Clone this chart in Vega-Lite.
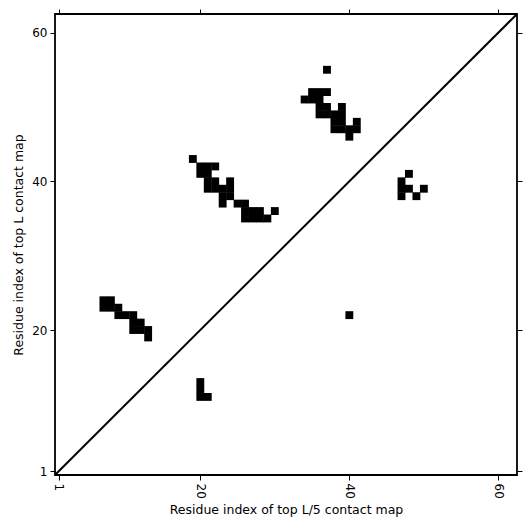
{
  "$schema": "https://vega.github.io/schema/vega-lite/v6.json",
  "autosize": "none",
  "width": 462,
  "height": 461,
  "padding": {"left": 55, "top": 14, "right": 14, "bottom": 56},
  "background": "white",
  "config": {
    "font": "DejaVu Sans",
    "view": {"stroke": "black", "strokeWidth": 1.8},
    "axis": {
      "domain": false,
      "grid": false,
      "tickColor": "black",
      "tickSize": 5,
      "tickWidth": 1,
      "labelColor": "black",
      "labelFontSize": 12,
      "titleColor": "black",
      "titleFontSize": 12.5,
      "titleFontWeight": "normal",
      "labelFont": "DejaVu Sans",
      "titleFont": "DejaVu Sans"
    }
  },
  "datasets": {
    "contacts": [
      {"i": 7, "j": 24}, {"i": 8, "j": 24},
      {"i": 7, "j": 23}, {"i": 8, "j": 23}, {"i": 9, "j": 23},
      {"i": 9, "j": 22}, {"i": 10, "j": 22}, {"i": 11, "j": 22},
      {"i": 11, "j": 21}, {"i": 12, "j": 21},
      {"i": 11, "j": 20}, {"i": 12, "j": 20}, {"i": 13, "j": 20},
      {"i": 13, "j": 19},
      {"i": 19, "j": 43},
      {"i": 20, "j": 42}, {"i": 21, "j": 42}, {"i": 22, "j": 42},
      {"i": 20, "j": 41}, {"i": 21, "j": 41},
      {"i": 21, "j": 40}, {"i": 22, "j": 40}, {"i": 24, "j": 40},
      {"i": 21, "j": 39}, {"i": 22, "j": 39}, {"i": 23, "j": 39}, {"i": 24, "j": 39},
      {"i": 23, "j": 38}, {"i": 24, "j": 38},
      {"i": 23, "j": 37}, {"i": 25, "j": 37}, {"i": 26, "j": 37},
      {"i": 26, "j": 36}, {"i": 27, "j": 36}, {"i": 28, "j": 36}, {"i": 30, "j": 36},
      {"i": 26, "j": 35}, {"i": 27, "j": 35}, {"i": 28, "j": 35}, {"i": 29, "j": 35},
      {"i": 37, "j": 55},
      {"i": 35, "j": 52}, {"i": 36, "j": 52}, {"i": 37, "j": 52},
      {"i": 34, "j": 51}, {"i": 35, "j": 51}, {"i": 36, "j": 51},
      {"i": 36, "j": 50}, {"i": 37, "j": 50}, {"i": 39, "j": 50},
      {"i": 36, "j": 49}, {"i": 37, "j": 49}, {"i": 38, "j": 49}, {"i": 39, "j": 49},
      {"i": 38, "j": 48}, {"i": 39, "j": 48}, {"i": 41, "j": 48},
      {"i": 38, "j": 47}, {"i": 39, "j": 47}, {"i": 40, "j": 47}, {"i": 41, "j": 47},
      {"i": 40, "j": 46},
      {"i": 48, "j": 41},
      {"i": 47, "j": 40},
      {"i": 47, "j": 39}, {"i": 48, "j": 39}, {"i": 50, "j": 39},
      {"i": 47, "j": 38}, {"i": 49, "j": 38},
      {"i": 20, "j": 13}, {"i": 20, "j": 12}, {"i": 20, "j": 11}, {"i": 21, "j": 11},
      {"i": 40, "j": 22}
    ],
    "diag": [
      {"i": 0.5, "j": 0.5},
      {"i": 62.5, "j": 62.5}
    ]
  },
  "layer": [
    {
      "data": {"name": "contacts"},
      "mark": {"type": "square", "size": 62, "filled": true, "opacity": 1, "color": "black", "strokeWidth": 0},
      "encoding": {
        "x": {
          "field": "i", "type": "quantitative",
          "scale": {"domain": [0.5, 62.5], "nice": false, "zero": false},
          "axis": {"orient": "bottom", "values": [1, 20, 40, 60], "labelAngle": 90, "labelAlign": "left", "labelBaseline": "middle", "labelPadding": 3, "title": "Residue index of top L/5 contact map", "titlePadding": 5}
        },
        "y": {
          "field": "j", "type": "quantitative",
          "scale": {"domain": [0.5, 62.5], "nice": false, "zero": false},
          "axis": {"orient": "left", "values": [1, 20, 40, 60], "labelPadding": 3, "title": "Residue index of top L contact map", "titlePadding": 6}
        }
      }
    },
    {
      "data": {"name": "diag"},
      "mark": {"type": "line", "color": "black", "strokeWidth": 2, "clip": true},
      "encoding": {
        "x": {
          "field": "i", "type": "quantitative",
          "axis": {"orient": "top", "values": [1, 20, 40, 60], "labels": false, "title": null}
        },
        "y": {
          "field": "j", "type": "quantitative",
          "axis": {"orient": "right", "values": [1, 20, 40, 60], "labels": false, "title": null}
        }
      }
    }
  ],
  "resolve": {"axis": {"x": "independent", "y": "independent"}}
}
